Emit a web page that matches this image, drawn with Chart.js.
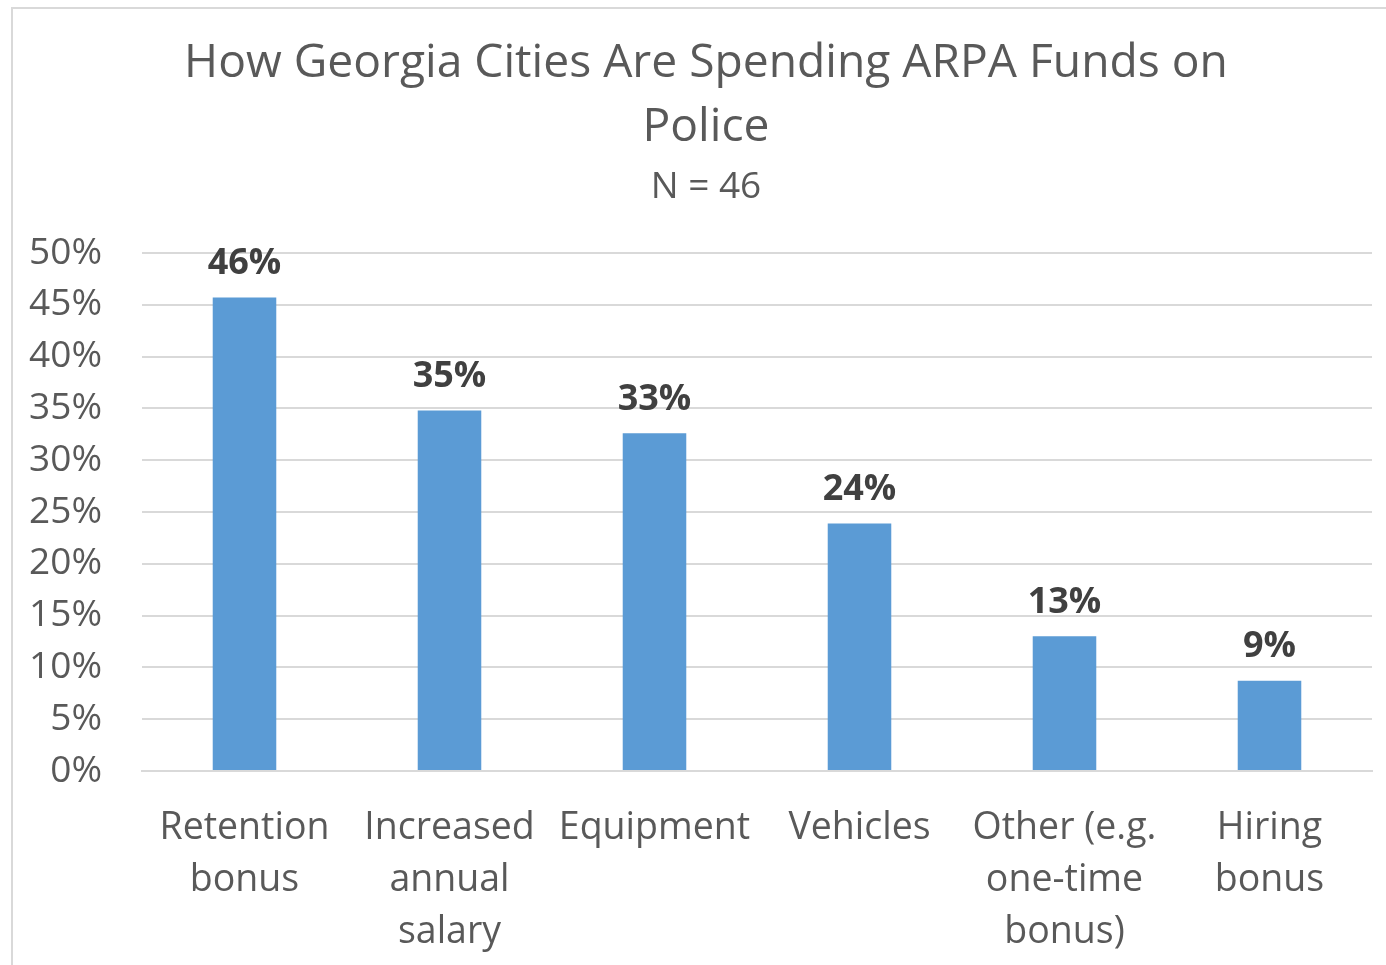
<!DOCTYPE html>
<html>
<head>
<meta charset="utf-8">
<script src="https://cdn.jsdelivr.net/npm/chart.js@4.4.1/dist/chart.umd.min.js"></script>
<style>
  html, body { margin: 0; padding: 0; background: #fff; }
  #wrap { position: absolute; left: 0; top: 0; width: 1386px; height: 965px; }
  #frame { position: absolute; left: 11px; top: 7px; width: 1400px; height: 1000px;
           border-left: 2px solid #d9d9d9; border-top: 2px solid #d9d9d9; }
  canvas { display: block; }
</style>
</head>
<body>
<div id="wrap">
  <div id="frame"></div>
  <canvas id="arpaChart" width="1386" height="965"></canvas>
</div>
<script>
// share of cities (N = 46) spending ARPA money on each police item
const categories = [
  ['Retention', 'bonus'],
  ['Increased', 'annual', 'salary'],
  ['Equipment'],
  ['Vehicles'],
  ['Other (e.g.', 'one-time', 'bonus)'],
  ['Hiring', 'bonus']
];
const shares = [45.7, 34.8, 32.6, 23.9, 13.0, 8.7];
const yTicks = [0, 5, 10, 15, 20, 25, 30, 35, 40, 45, 50];
const titleLines = ['How Georgia Cities Are Spending ARPA Funds on', 'Police'];
const subtitleText = 'N = 46';

const FONT = "'Open Sans', 'Noto Sans', sans-serif";
const TEXT_GREY = '#595959';
const GRID_GREY = '#d9d9d9';
const BAR_BLUE = '#5b9bd5';

// bold percent labels above each bar
const barLabels = {
  id: 'barLabels',
  afterDatasetsDraw(chart) {
    const ctx = chart.ctx;
    const meta = chart.getDatasetMeta(0);
    ctx.save();
    ctx.font = 'bold 36px ' + FONT;
    ctx.fillStyle = '#404040';
    ctx.textAlign = 'center';
    ctx.textBaseline = 'bottom';
    meta.data.forEach((bar, i) => {
      ctx.fillText(Math.round(shares[i]) + '%', bar.x, bar.y - 16);
    });
    ctx.restore();
  }
};

// title block is centred on the whole frame, not only the plot, so draw it here
const headerText = {
  id: 'headerText',
  afterDraw(chart) {
    const ctx = chart.ctx;
    ctx.save();
    ctx.fillStyle = TEXT_GREY;
    ctx.textAlign = 'center';
    ctx.textBaseline = 'middle';
    ctx.font = '46.2px ' + FONT;
    titleLines.forEach((line, i) => ctx.fillText(line, 706, 64 + i * 64));
    ctx.font = '37px ' + FONT;
    ctx.fillText(subtitleText, 706, 187);
    ctx.restore();
  }
};

new Chart(document.getElementById('arpaChart').getContext('2d'), {
  type: 'bar',
  data: {
    labels: categories,
    datasets: [{
      data: shares,
      backgroundColor: BAR_BLUE,
      borderWidth: 0,
      barPercentage: 0.31,
      categoryPercentage: 1
    }]
  },
  options: {
    responsive: false,
    animation: false,
    layout: { padding: { left: 28, right: 14, top: 253, bottom: 0 } },
    scales: {
      y: {
        min: 0,
        max: 50,
        afterBuildTicks: (axis) => { axis.ticks = yTicks.map(v => ({ value: v })); },
        afterFit: (axis) => { axis.width = 114; },
        grid: { color: GRID_GREY, lineWidth: 2, drawTicks: false },
        border: { display: false },
        ticks: {
          color: TEXT_GREY,
          font: { family: FONT, size: 37 },
          padding: 40,
          callback: (v) => v + '%'
        }
      },
      x: {
        afterFit: (axis) => { axis.height = 194; },
        grid: { display: false, drawTicks: false },
        border: { color: GRID_GREY, width: 2 },
        ticks: {
          color: TEXT_GREY,
          font: { family: FONT, size: 37.5, lineHeight: 1.387 },
          padding: 31,
          maxRotation: 0,
          autoSkip: false
        }
      }
    },
    plugins: {
      legend: { display: false },
      tooltip: { enabled: false },
      title: { display: false },
      subtitle: { display: false }
    }
  },
  plugins: [barLabels, headerText]
});
</script>
</body>
</html>
